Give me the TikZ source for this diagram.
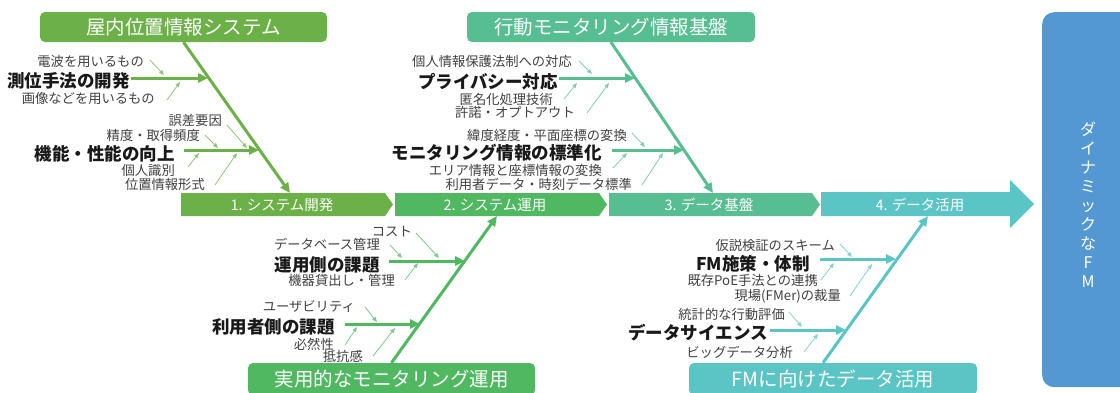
\documentclass[tikz,border=0pt]{standalone}
\usepackage{fontspec}
\setmainfont{Noto Sans CJK JP}
\usetikzlibrary{arrows.meta}
\definecolor{cA}{RGB}{108,176,72}
\definecolor{cB}{RGB}{80,184,96}
\definecolor{cC}{RGB}{86,190,144}
\definecolor{cD}{RGB}{91,196,196}
\definecolor{cBlue}{RGB}{84,152,210}
\definecolor{txt}{RGB}{64,64,64}
\begin{document}
\begin{tikzpicture}[x=1pt,y=-1pt,
  titlebox/.style={rounded corners=5pt, text=white, font=\fontsize{19.5}{21}\selectfont, minimum height=30pt, inner sep=0pt},
  spinetext/.style={text=white, font=\fontsize{14.5}{16}\selectfont, inner sep=0pt},
  bone/.style={line width=3pt, -{Triangle[length=10pt,width=9pt]}},
  twig/.style={line width=0.8pt, -{Triangle[length=5pt,width=4pt]}},
  big/.style={font=\bfseries\fontsize{17.5}{19}\selectfont, text=black!90, anchor=east, inner sep=0pt},
  small/.style={font=\fontsize{13.3}{15}\selectfont, text=txt, anchor=east, inner sep=0pt}]
\useasboundingbox (0,0) rectangle (1120,392);

% right goal box
\node[fill=cBlue, rounded corners=12pt, minimum width=95pt, minimum height=375pt, inner sep=0pt, anchor=north west] (goal) at (1042,12) {};
\node[text=white, font=\fontsize{16}{19}\selectfont, align=center, inner sep=0pt] (goaltext) at (1088,205) {ダ\\イ\\ナ\\ミ\\ッ\\ク\\な\\F\\M};

% title boxes
\node[titlebox, fill=cA, minimum width=287pt] (tl) at (183.5,27) {屋内位置情報システム};
\node[titlebox, fill=cC, minimum width=288pt] (tm) at (611,27) {行動モニタリング情報基盤};
\node[titlebox, fill=cB, minimum width=287pt, minimum height=32pt] (bm) at (391.5,379) {実用的なモニタリング運用};
\node[titlebox, fill=cD, minimum width=288pt, minimum height=32pt] (br) at (833,379) {FMに向けたデータ活用};

% spine
\fill[cA] (181,193) -- (385,193) -- (393,204.5) -- (385,216) -- (181,216) -- cycle;
\fill[cB] (395,193) -- (599,193) -- (607,204.5) -- (599,216) -- (395,216) -- cycle;
\fill[cC] (609,193) -- (812,193) -- (820,204.5) -- (812,216) -- (609,216) -- cycle;
\fill[cD] (821,192) -- (1010,192) -- (1010,180) -- (1034,204) -- (1010,228) -- (1010,216) -- (821,216) -- cycle;
\node[spinetext] (s1) at (282,205) {1. システム開発};
\node[spinetext] (s2) at (495,205) {2. システム運用};
\node[spinetext] (s3) at (709,205) {3. データ基盤};
\node[spinetext] (s4) at (920,205) {4. データ活用};

\coordinate (tlend) at (290,193);
\coordinate (tmend) at (713,193);
\coordinate (bmend) at (497,216);
\coordinate (brend) at (928,216);

% main diagonals
\draw[bone, cA] (tl.south) -- (tlend);
\draw[bone, cC] (tm.south) -- (tmend);
\draw[bone, cB] (bm.north) -- (bmend);
\draw[bone, cD] ([xshift=-10pt]br.north) -- (brend);

% ---------- top-left group
\node[big] (a1) at (130,81) {測位手法の開発};
\node[small] (a1u) at (144,61) {電波を用いるもの};
\node[small] (a1d) at (155,98) {画像などを用いるもの};
\coordinate (a1e) at (208,78);
\draw[bone, cA] (131,78) -- (a1e);
\draw[twig, cA!75] (a1u.east) ++(6,-1) -- ++(14,15);
\draw[twig, cA!75] (a1d.east) ++(12,2) -- ++(13,-18);

\node[big] (a2) at (175,154) {機能・性能の向上};
\node[small] (a2u1) at (222,120) {誤差要因};
\node[small] (a2u2) at (200,135) {精度・取得頻度};
\node[small] (a2d1) at (175,170) {個人識別};
\node[small] (a2d2) at (205,184) {位置情報形式};
\coordinate (a2e) at (259,150);
\draw[bone, cA] (184,150) -- (a2e);
\draw[twig, cA!75] (a2u1.east) ++(5,5) -- ++(20,23);
\draw[twig, cA!75] (a2u2.east) ++(5,0) -- ++(13,13);
\draw[twig, cA!75] (a2d1.east) ++(13,-3) -- ++(11,-14);
\draw[twig, cA!75] (a2d2.east) ++(10,1) -- ++(22,-32);

% ---------- top-middle group
\node[big] (b1) at (558,82) {プライバシー対応};
\node[small] (b1u) at (572,61) {個人情報保護法制への対応};
\node[small] (b1d1) at (553,99) {匿名化処理技術};
\node[small] (b1d2) at (575,112) {許諾・オプトアウト};
\coordinate (b1e) at (635,78);
\draw[bone, cC] (559,78) -- (b1e);
\draw[twig, cC!75] (b1u.east) ++(7,0) -- ++(13,13);
\draw[twig, cC!75] (b1d1.east) ++(11,0) -- ++(13,-16);
\draw[twig, cC!75] (b1d2.east) ++(12,1) -- ++(22,-30);

\node[big] (b2) at (602,153) {モニタリング情報の標準化};
\node[small] (b2u) at (627,135) {緯度経度・平面座標の変換};
\node[small] (b2d1) at (602,170) {エリア情報と座標情報の変換};
\node[small] (b2d2) at (632,184) {利用者データ・時刻データ標準};
\coordinate (b2e) at (684,150);
\draw[bone, cC] (612,150) -- (b2e);
\draw[twig, cC!75] (b2u.east) ++(5,-2) -- ++(13,14);
\draw[twig, cC!75] (b2d1.east) ++(11,-2) -- ++(14,-15);
\draw[twig, cC!75] (b2d2.east) ++(10,1) -- ++(21,-32);

% ---------- bottom-middle group
\node[big] (c1) at (380,265) {運用側の課題};
\node[small] (c1u1) at (412,232) {コスト};
\node[small] (c1u2) at (380,244) {データベース管理};
\node[small] (c1d) at (395,280) {機器貸出し・管理};
\coordinate (c1e) at (465,261);
\draw[bone, cB] (389,261) -- (c1e);
\draw[twig, cB!75] (c1u1.east) ++(4,1) -- ++(23,25);
\draw[twig, cB!75] (c1u2.east) ++(10,1) -- ++(12,13);
\draw[twig, cB!75] (c1d.east) ++(10,0) -- ++(13,-17);

\node[big] (c2) at (335,327) {利用者側の課題};
\node[small] (c2u) at (355,307) {ユーザビリティ};
\node[small] (c2d1) at (334,344) {必然性};
\node[small] (c2d2) at (363,356) {抵抗感};
\coordinate (c2e) at (420,324);
\draw[bone, cB] (345,324) -- (c2e);
\draw[twig, cB!75] (c2u.east) ++(10,0) -- ++(12,15);
\draw[twig, cB!75] (c2d1.east) ++(11,1) -- ++(12,-18);
\draw[twig, cB!75] (c2d2.east) ++(10,0) -- ++(22,-28);

% ---------- bottom-right group
\node[big] (d1) at (810,264) {FM施策・体制};
\node[small] (d1u) at (835,245) {仮説検証のスキーム};
\node[small] (d1d1) at (818,280) {既存PoE手法との連携};
\node[small] (d1d2) at (841,296) {現場(FMer)の裁量};
\coordinate (d1e) at (896,259);
\draw[bone, cD] (820,259) -- (d1e);
\draw[twig, cD!75] (d1u.east) ++(5,-1) -- ++(12,13);
\draw[twig, cD!75] (d1d1.east) ++(3,0) -- ++(13,-17);
\draw[twig, cD!75] (d1d2.east) ++(9,0) -- ++(22,-32);

\node[big] (d2) at (768,333) {データサイエンス};
\node[small] (d2u) at (785,314) {統計的な行動評価};
\node[small] (d2d) at (793,352) {ビッグデータ分析};
\coordinate (d2e) at (846,330);
\draw[bone, cD] (770,330) -- (d2e);
\draw[twig, cD!75] (d2u.east) ++(4,-2) -- ++(13,15);
\draw[twig, cD!75] (d2d.east) ++(11,0) -- ++(14,-18);
\end{tikzpicture}
\end{document}
